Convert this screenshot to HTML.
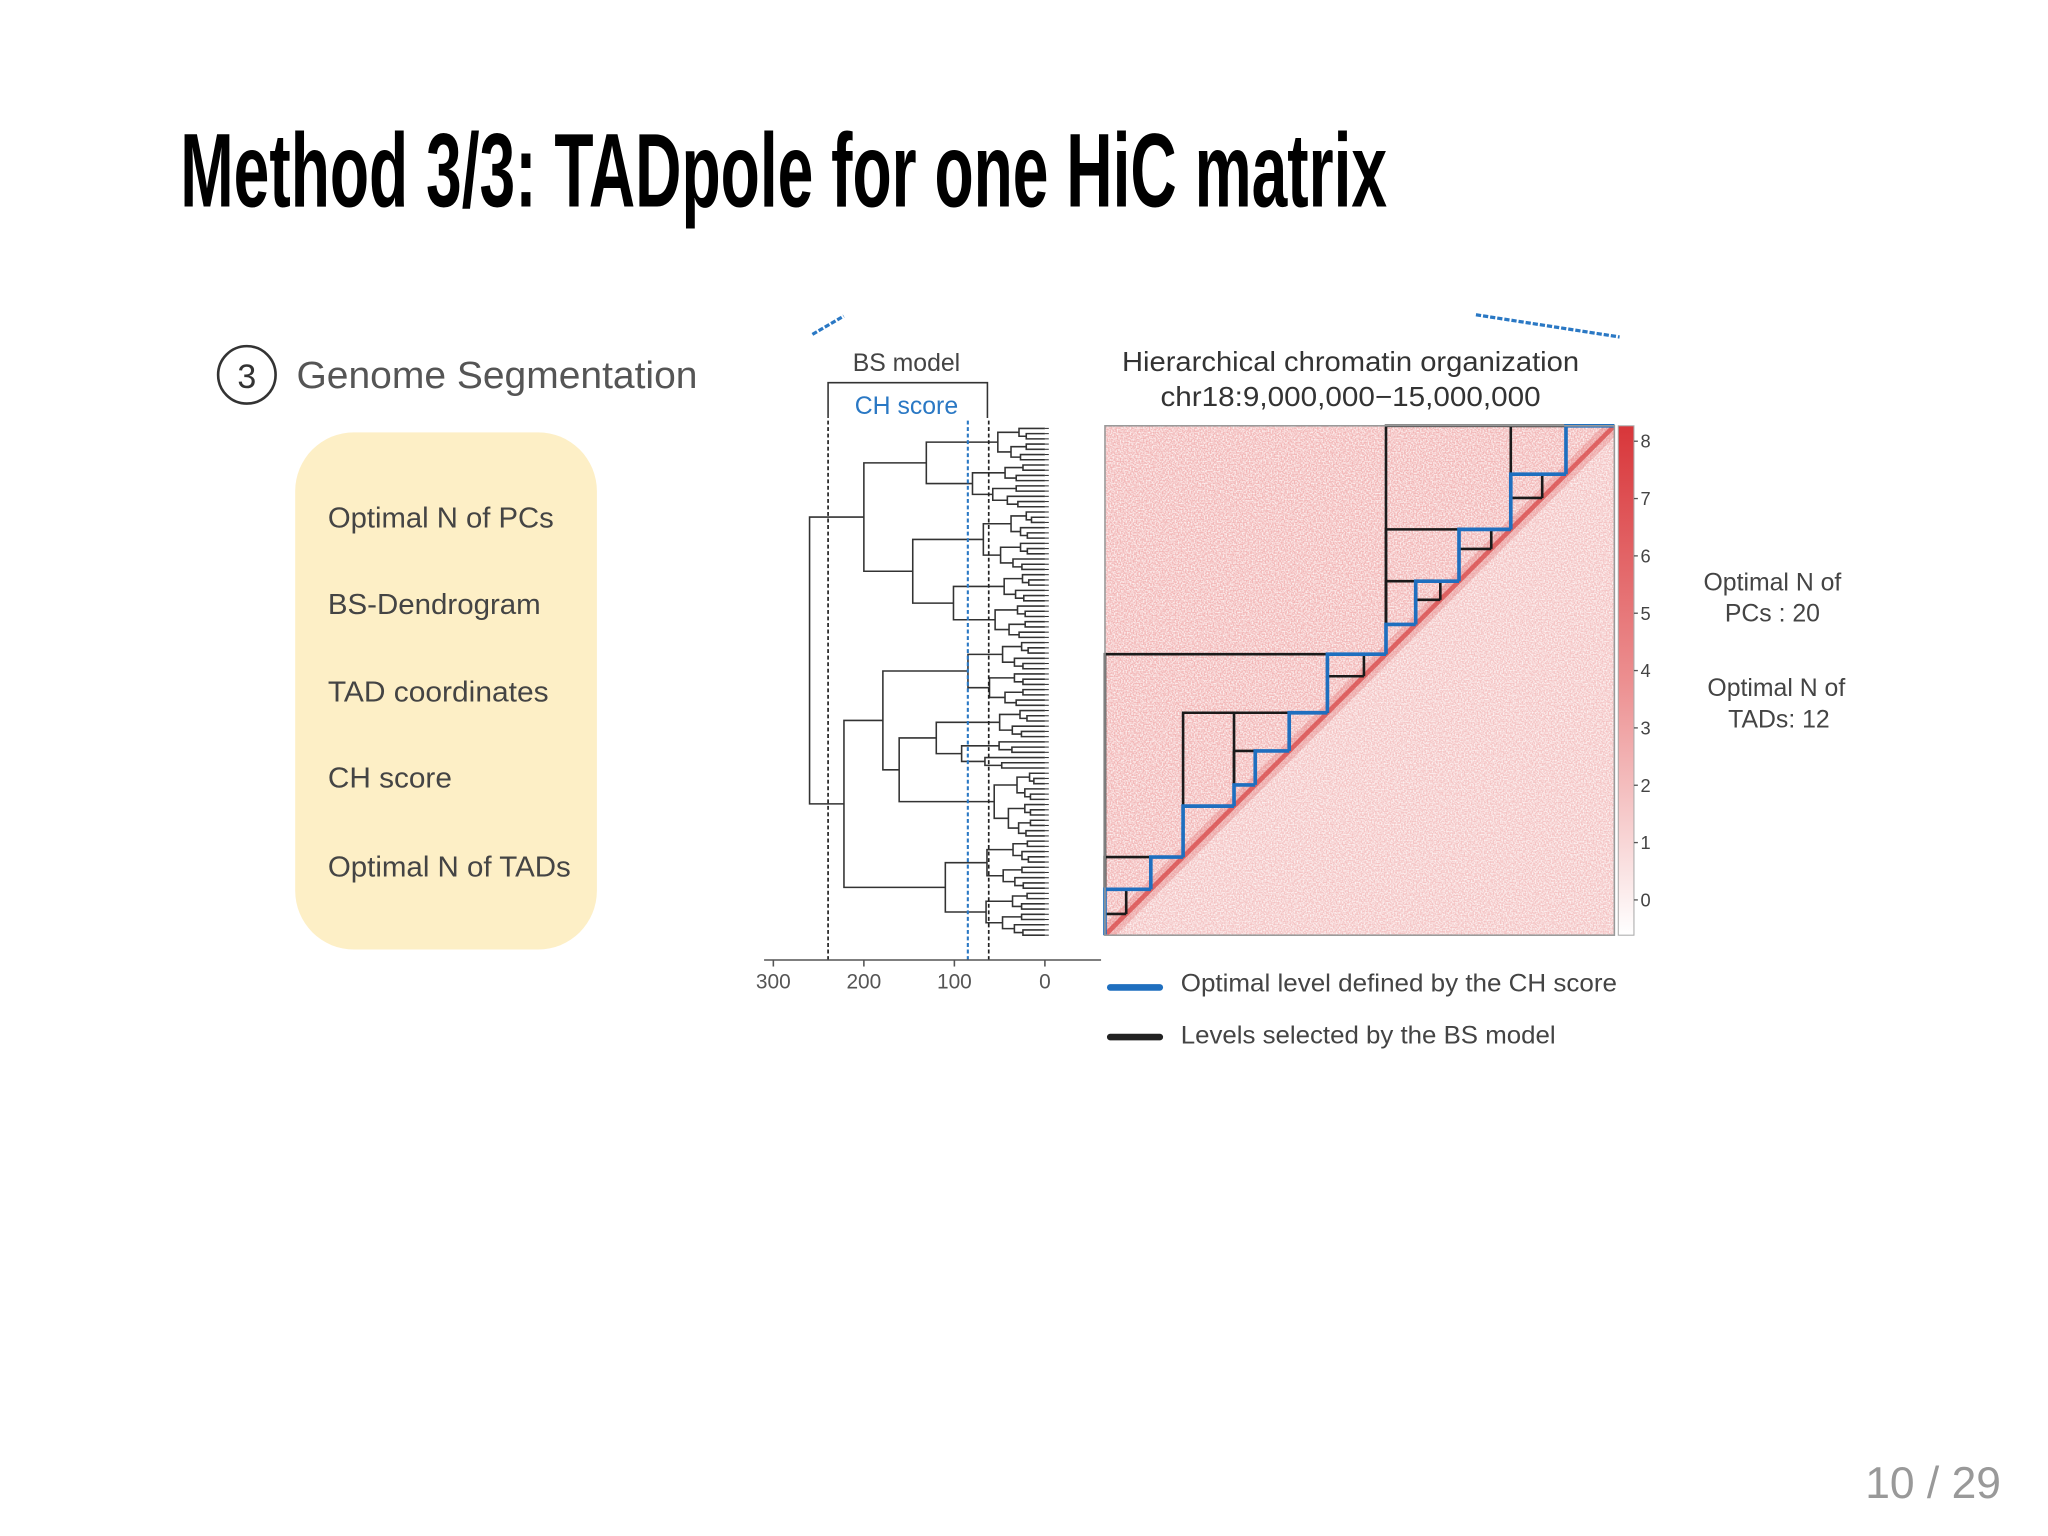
<!DOCTYPE html>
<html><head><meta charset="utf-8"><style>
html,body{margin:0;padding:0;background:#fff}
svg{display:block}
text{font-family:"Liberation Sans",sans-serif}
</style></head><body>
<svg id="s" width="2048" height="1536" viewBox="0 0 1568 1176" xmlns="http://www.w3.org/2000/svg">
<defs>
<filter id="spk" x="0" y="0" width="1" height="1">
<feTurbulence type="fractalNoise" baseFrequency="0.9" numOctaves="1" seed="3"/>
<feColorMatrix type="matrix" values="0 0 0 0 1 0 0 0 0 1 0 0 0 0 1 0 0 0 -2.6 1.7"/>
</filter>
<clipPath id="mclip"><rect x="846" y="326" width="390" height="390"/></clipPath>
<linearGradient id="cb" x1="0" y1="0" x2="0" y2="1"><stop offset="0" stop-color="#d8363a"/><stop offset="0.5" stop-color="#ec8f90"/><stop offset="1" stop-color="#ffffff"/></linearGradient>
</defs>
<rect width="1568" height="1176" fill="#fff"/>
<text x="138" y="158" font-size="80" font-weight="bold" textLength="924" lengthAdjust="spacingAndGlyphs" fill="#000">Method 3/3: TADpole for one HiC matrix</text>

<circle cx="189" cy="287" r="22" fill="none" stroke="#333" stroke-width="2"/>
<text x="189" y="297" font-size="26" text-anchor="middle" fill="#333">3</text>
<text x="227" y="297" font-size="29" fill="#555" textLength="307" lengthAdjust="spacingAndGlyphs">Genome Segmentation</text>

<rect x="226" y="331" width="231" height="396" rx="45" ry="45" fill="#fdefc6"/>
<g font-size="22" fill="#444">
<text x="251" y="404" textLength="173" lengthAdjust="spacingAndGlyphs">Optimal N of PCs</text>
<text x="251" y="470" textLength="163" lengthAdjust="spacingAndGlyphs">BS-Dendrogram</text>
<text x="251" y="537" textLength="169" lengthAdjust="spacingAndGlyphs">TAD coordinates</text>
<text x="251" y="603" textLength="95" lengthAdjust="spacingAndGlyphs">CH score</text>
<text x="251" y="671" textLength="186" lengthAdjust="spacingAndGlyphs">Optimal N of TADs</text>
</g>

<line x1="622" y1="256" x2="646" y2="242" stroke="#2a78c4" stroke-width="2.5" stroke-dasharray="4 1.5"/>
<line x1="1130" y1="241" x2="1240" y2="258" stroke="#2a78c4" stroke-width="2.5" stroke-dasharray="4 1.5"/>

<text x="694" y="284" font-size="19" text-anchor="middle" fill="#444">BS model</text>
<polyline points="634,320 634,293 756,293 756,320" fill="none" stroke="#333" stroke-width="1.2"/>
<text x="694" y="317" font-size="19" text-anchor="middle" fill="#2a78c4">CH score</text>

<g id="dendro"></g>
<line x1="634" y1="322" x2="634" y2="735" stroke="#222" stroke-width="1.3" stroke-dasharray="3 2"/>
<line x1="741" y1="322" x2="741" y2="735" stroke="#2a78c4" stroke-width="1.6" stroke-dasharray="3 2"/>
<line x1="757" y1="322" x2="757" y2="735" stroke="#222" stroke-width="1.3" stroke-dasharray="3 2"/>
<g id="daxis"></g>

<text x="1034" y="284" font-size="21" text-anchor="middle" fill="#333" textLength="350" lengthAdjust="spacingAndGlyphs">Hierarchical chromatin organization</text>
<text x="1034" y="311" font-size="21" text-anchor="middle" fill="#333" textLength="291" lengthAdjust="spacingAndGlyphs">chr18:9,000,000−15,000,000</text>

<g id="mat" clip-path="url(#mclip)">
<rect x="846" y="326" width="390" height="390" fill="#f2b6b6"/>
<rect x="846" y="326" width="390" height="390" filter="url(#spk)" opacity="0.8"/>
<polygon points="846,716 1236,716 1236,326" fill="#fff" opacity="0.18"/>
<line x1="846" y1="716" x2="1236" y2="326" stroke="#e06a6a" stroke-width="12" opacity="0.3"/>
<line x1="846" y1="716" x2="1236" y2="326" stroke="#d84848" stroke-width="3.5" opacity="0.75"/>
</g>
<g id="tads"></g>
<rect x="846" y="326" width="390" height="390" fill="none" stroke="#999" stroke-width="1.2"/>

<rect x="1239" y="326" width="12" height="390" fill="url(#cb)" stroke="#aaa" stroke-width="0.8"/>
<g id="cbt"></g>

<g font-size="19" fill="#444" text-anchor="middle">
<text x="1357" y="452">Optimal N of</text>
<text x="1357" y="476">PCs : 20</text>
<text x="1360" y="533">Optimal N of</text>
<text x="1362" y="557">TADs: 12</text>
</g>

<line x1="850" y1="756" x2="888" y2="756" stroke="#1f6fbf" stroke-width="5" stroke-linecap="round"/>
<text x="904" y="759" font-size="19" fill="#444" textLength="334" lengthAdjust="spacingAndGlyphs">Optimal level defined by the CH score</text>
<line x1="850" y1="794" x2="888" y2="794" stroke="#222" stroke-width="5" stroke-linecap="round"/>
<text x="904" y="799" font-size="19" fill="#444" textLength="287" lengthAdjust="spacingAndGlyphs">Levels selected by the BS model</text>

<text x="1532" y="1147" font-size="34" text-anchor="end" fill="#999" font-family="Liberation Serif, serif">10 / 29</text>
</svg>
<script>
// Dendrogram: internal node [height, left, right]; clade leaf-group ['c', height, nLeaves]
const dendroTree = [260,
  [200,
    [131, ['c',52,7], ['c',80,9]],
    [146, ['c',68,12], [101, ['c',45,6], ['c',55,7]]]],
  [222,
    [179, ['c',85,13], [161, [120, ['c',50,6], ['c',92,6]], ['c',56,13]]],
    [110, ['c',64,10], ['c',65,9]]]];
const dendroTicks = [300, 200, 100, 0];
// TAD boundaries (Mb)
const ctPositions = [9, 9.54, 9.92, 10.52, 10.77, 11.17, 11.62, 12.31, 12.66, 13.17, 13.78, 14.43, 15];
const bsLevels = [
  [9, 12.31, 15],
  [9, 9.92, 11.62, 12.31, 13.78, 15],
  [9.92, 10.52, 11.62],
  [12.31, 13.17, 13.78],
  [9, 9.25, 9.54],
  [10.52, 11.17],
  [11.62, 12.05, 12.31],
  [12.66, 12.95, 13.17],
  [13.17, 13.55, 13.78],
  [13.78, 14.15, 14.43]
];
const cbTicks = [0,1,2,3,4,5,6,7,8];

const NS = 'http://www.w3.org/2000/svg';
function mk(tag, attrs, parent){ const e=document.createElementNS(NS,tag); for(const k in attrs) e.setAttribute(k,attrs[k]); parent.appendChild(e); return e; }
const hx = h => 800 - h*0.693;
const gx = p => 846 + (p-9)*65;
const gy = p => 716 - (p-9)*65;

function expand(node){
  if(node[0]==='c'){ return build(node[2], node[1]); }
  return [node[0], expand(node[1]), expand(node[2])];
}
function build(n,h){
  if(n<=1) return 'leaf';
  const a=Math.floor(n/2);
  return [h, build(a,h*0.55), build(n-a,h*0.72)];
}
const full = expand(dendroTree);
function countLeaves(t){ return t==='leaf'?1:countLeaves(t[1])+countLeaves(t[2]); }
const nLeaves = countLeaves(full);
const dg = document.getElementById('dendro');
let li=0;
const step = (716-328)/(nLeaves-1);
function draw(t){
  if(t==='leaf'){ const y=328+step*(li++); const l=mk('line',{x1:800,y1:y,x2:803,y2:y,stroke:'#333','stroke-width':0.8},dg);
    
    
    return {y:y,h:0}; }
  const a=draw(t[1]), b=draw(t[2]); const x=hx(t[0]);
  const p=mk('path',{d:`M${hx(a.h)},${a.y}H${x}V${b.y}H${hx(b.h)}`,fill:'none',stroke:'#333','stroke-width':1.2},dg);
  
  
  return {y:(a.y+b.y)/2,h:t[0]};
}
draw(full);

const ax=document.getElementById('daxis');
mk('line',{x1:585,y1:735,x2:843,y2:735,stroke:'#555','stroke-width':1.2},ax);
dendroTicks.forEach(v=>{
  mk('line',{x1:hx(v),y1:735,x2:hx(v),y2:740,stroke:'#555','stroke-width':1.2},ax);
  const t=mk('text',{x:hx(v),y:757,'font-size':16,'text-anchor':'middle',fill:'#555'},ax);
  t.textContent=v;
  
  
});

const tg=document.getElementById('tads');
function stair(b,color,w,name){
  let d='';
  for(let i=0;i<b.length-1;i++){
    const a=b[i], c=b[i+1];
    d+=`M${gx(a)},${gy(a)}V${gy(c)}H${gx(c)}`;
  }
  const p=mk('path',{d:d,fill:'none',stroke:color,'stroke-width':w,'stroke-linejoin':'miter'},tg);
  
  
}
bsLevels.forEach(l=>stair(l,'#1a1a1a',2,'bs-level'));
stair(ctPositions,'#1f6fbf',2.8,'ch-optimal-level');

const cg=document.getElementById('cbt');
cbTicks.forEach(v=>{
  const y=689-v*43.9;
  mk('line',{x1:1251,y1:y,x2:1254,y2:y,stroke:'#555'},cg);
  const t=mk('text',{x:1256,y:y+5,'font-size':14,fill:'#444'},cg);
  t.textContent=v;
  
  
});
</script>
</body></html>
